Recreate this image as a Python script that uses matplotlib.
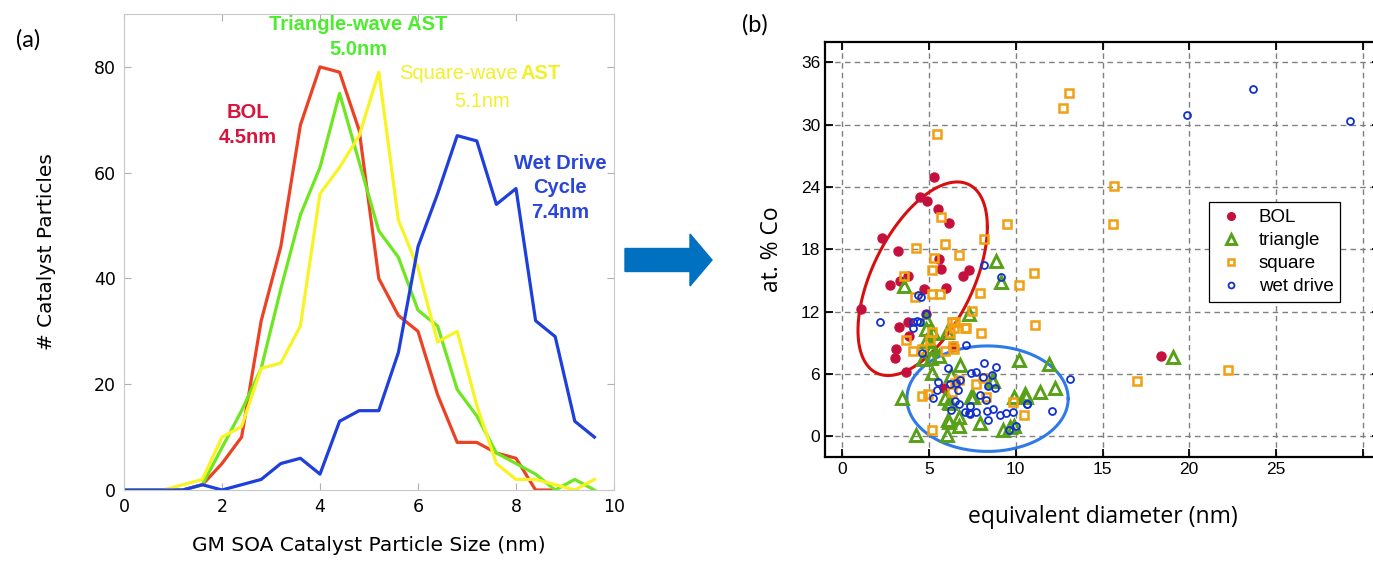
import numpy as np
import matplotlib
matplotlib.use("Agg")
import matplotlib.pyplot as plt
from matplotlib.patches import FancyArrow

nan = np.nan

# ---- panel (a): particle size distributions ----
sizes = [0.0, 0.4, 0.8, 1.2, 1.6, 2.0, 2.4, 2.8, 3.2, 3.6, 4.0, 4.4, 4.8,
         5.2, 5.6, 6.0, 6.4, 6.8, 7.2, 7.6, 8.0, 8.4, 8.8, 9.2, 9.6]
bol_counts = [0, 0, 0, 0, 1, 5, 10, 32, 46, 69, 80, 79, 68,
              40, 33, 30, 18, 9, 9, 7, 6, 0, 0, nan, nan]
triangle_counts = [0, 0, 0, 0, 1, 8, 15, 23, 38, 52, 61, 75, 62,
                   49, 44, 34, 31, 19, 14, 7, 5, 3, 0, 2, 0]
square_counts = [0, 0, 0, 1, 2, 10, 12, 23, 24, 31, 56, 61, 67,
                 79, 51, 42, 28, 30, 16, 5, 2, 2, 1, 0, 2]
wetdrive_counts = [0, 0, 0, 0, 1, 0, 1, 2, 5, 6, 3, 13, 15,
                   15, 26, 46, 56, 67, 66, 54, 57, 32, 29, 13, 10]

# ---- panel (b): Co content vs diameter ----
bol_d = [1.1, 2.3, 2.77, 3.06, 3.08, 3.19, 3.25, 3.31, 3.69, 3.79, 3.8, 3.85,
         4.48, 4.73, 4.85, 4.9, 5.29, 5.52, 5.6, 5.68, 5.87, 5.95, 6.15, 6.35,
         6.94, 7.29, 18.37]
bol_co = [12.3, 19.1, 14.6, 7.5, 8.4, 17.8, 10.5, 15.0, 6.2, 11.0, 15.4, 9.7,
          23.0, 14.2, 11.8, 22.7, 25.0, 21.9, 17.1, 16.1, 4.6, 14.3, 20.5, 8.7,
          15.4, 16.0, 7.7]

tri_d = [3.56, 8.85, 9.13, 7.28, 4.85, 4.8, 5.23, 6.03, 4.85, 5.16, 5.04, 4.67,
         5.12, 5.58, 6.81, 5.19, 6.29, 10.16, 11.94, 3.41, 5.89, 6.13, 6.23,
         7.44, 7.53, 8.6, 8.69, 9.92, 10.54, 10.6, 11.42, 12.25, 6.71, 6.1,
         6.13, 6.71, 7.92, 9.28, 9.67, 9.92, 4.24, 6.03, 19.08]
tri_co = [14.5, 16.9, 14.9, 11.8, 11.3, 10.3, 9.9, 10.0, 9.2, 8.6, 8.5, 7.4,
          7.5, 7.7, 6.9, 6.1, 5.9, 7.3, 7.0, 3.7, 3.7, 3.3, 3.2,
          3.76, 3.8, 5.4, 5.3, 3.8, 4.1, 3.8, 4.3, 4.6, 1.9, 1.6,
          1.4, 1.0, 1.3, 0.64, 0.9, 1.0, 0.16, 0.16, 7.68]

sq_d = [5.47, 12.72, 13.06, 15.65, 15.6, 9.5, 8.16, 5.68, 5.93, 6.71, 4.22,
        5.31, 5.19, 3.56, 5.16, 5.64, 4.2, 7.96, 11.07, 10.21, 7.48, 7.15,
        7.98, 11.13, 6.32, 6.51, 6.42, 6.22, 7.06, 3.64, 5.19, 5.06, 4.09,
        4.61, 5.93, 6.36, 6.42, 8.12, 7.73, 6.51, 6.71, 6.32, 4.61, 4.96,
        8.31, 9.81, 10.45, 5.19, 16.97, 22.24]
sq_co = [29.15, 31.6, 33.1, 24.1, 20.4, 20.4, 19.0, 21.1, 18.5, 17.5, 18.1,
         17.2, 16.0, 15.4, 13.7, 13.7, 13.4, 13.8, 15.7, 14.6, 12.1, 10.4,
         9.9, 10.7, 11.0, 11.0, 10.4, 9.9, 10.4, 9.3, 10.0, 9.3, 8.2,
         8.4, 8.2, 8.7, 8.4, 5.6, 5.0, 5.1, 5.4, 4.3, 3.9, 4.1,
         3.8, 3.3, 2.0, 0.64, 5.33, 6.38]

wet_d = [19.86, 23.7, 29.26, 9.17, 8.17, 4.38, 4.52, 2.15, 4.09, 4.28, 4.48,
         4.05, 4.85, 4.61, 7.14, 13.13, 12.06, 10.64, 6.10, 5.52, 5.48, 6.19,
         6.58, 6.77, 6.67, 7.44, 7.69, 8.15, 8.12, 8.4, 8.79, 8.85, 8.65,
         5.23, 6.48, 6.73, 7.35, 7.06, 7.31, 7.69, 8.35, 8.69, 9.08, 9.46,
         9.85, 10.62, 9.6, 10.0, 8.4, 6.29, 7.92, 8.31, 7.34]
wet_co = [30.9, 33.4, 30.4, 15.3, 16.5, 13.6, 13.4, 11.0, 11.0, 11.1, 11.0,
          10.4, 11.8, 8.0, 8.8, 5.5, 2.4, 3.1, 6.55, 5.27, 4.47, 5.04,
          5.17, 5.43, 4.47, 6.07, 6.23, 7.1, 5.75, 4.8, 4.63, 6.65, 5.9,
          3.67, 3.44, 3.12, 2.93, 2.38, 2.22, 2.29, 2.48, 2.61, 2.06, 2.22,
          2.29, 3.09, 0.62, 0.94, 1.52, 2.54, 4.0, 3.5, 2.1]

fig = plt.figure(figsize=(13.73, 5.62), dpi=100)

# ---------------- (a) ----------------
ax1 = fig.add_axes([0.0903, 0.1281, 0.3569, 0.847])
ax1.plot(sizes, bol_counts, color="#ec4124", lw=2.3)
ax1.plot(sizes, triangle_counts, color="#6ee620", lw=2.3)
ax1.plot(sizes, square_counts, color="#f8f424", lw=2.3)
ax1.plot(sizes, wetdrive_counts, color="#1f3fdc", lw=2.3)
ax1.set_xlim(0, 10)
ax1.set_ylim(0, 90)
ax1.set_xticks([0, 2, 4, 6, 8, 10])
ax1.set_yticks([0, 20, 40, 60, 80])
for s in ax1.spines.values():
    s.set_color("#c8c8c8")
ax1.tick_params(direction="in", length=5, color="#b0b0b0", top=True,
                right=True, labelsize=12.5, pad=6)
ax1.set_xlabel("GM SOA Catalyst Particle Size (nm)", fontsize=14.5,
               labelpad=14)
ax1.set_ylabel("# Catalyst Particles", fontsize=14.5, labelpad=27)

lbl = dict(fontsize=14.5, va="top", family="Liberation Sans", linespacing=1.38)
ax1.text(2.52, 73.2, "BOL\n4.5nm", color="#d8143c", fontweight="bold",
         ha="center", **lbl)
ax1.text(4.78, 89.8, "Triangle-wave AST\n5.0nm", color="#4ced2e",
         fontweight="bold", ha="center", **lbl)
ax1.text(8.03, 80.6, "Square-wave", color="#f2f02a", ha="right", **lbl)
ax1.text(8.1, 80.6, "AST", color="#f2f02a", fontweight="bold", ha="left",
         **lbl)
ax1.text(7.31, 75.2, "5.1nm", color="#f2f02a", ha="center", **lbl)
ax1.text(8.9, 63.6, "Wet Drive\nCycle\n7.4nm", color="#2a46d8",
         fontweight="bold", ha="center", **lbl)

# ---------------- (b) ----------------
ax2 = fig.add_axes([0.6009, 0.1868, 0.4042, 0.739])
ax2.grid(True, color="#808080", ls=(0, (4, 3)), lw=1.0)
ax2.set_axisbelow(True)

t = np.linspace(0, 2 * np.pi, 300)
ax2.plot(4.63 + 3.73 * np.cos(t), 15.17 + 4.98 * np.cos(t) + 7.88 * np.sin(t),
         color="#d80f0f", lw=2.2, zorder=3)
ax2.plot(8.37 + 4.65 * np.cos(t), 3.62 + 5.08 * np.sin(t),
         color="#2f7ae8", lw=2.2, zorder=3)

ax2.plot(bol_d, bol_co, "o", ls="none", ms=6.5, color="#c4103c",
         mec="#c4103c", label="BOL", zorder=4)
ax2.plot(tri_d, tri_co, "^", ls="none", ms=8, mfc="none", mec="#58a018",
         mew=2.1, label="triangle", zorder=4)
ax2.plot(sq_d, sq_co, "s", ls="none", ms=5.8, mfc="none", mec="#f0a010",
         mew=1.8, label="square", zorder=4)
ax2.plot(wet_d, wet_co, "o", ls="none", ms=5, mfc="none", mec="#1030d0",
         mew=1.3, label="wet drive", zorder=4)

ax2.set_xlim(-1, 31)
ax2.set_ylim(-2, 38)
ax2.set_xticks([0, 5, 10, 15, 20, 25, 30])
ax2.set_xticklabels(["0", "5", "10", "15", "20", "25", ""])
ax2.set_yticks([0, 6, 12, 18, 24, 30, 36])
for s in ax2.spines.values():
    s.set_linewidth(1.6)
ax2.tick_params(direction="in", length=6, width=1.3, top=True, right=True,
                labelsize=12.5)
for lab in ax2.get_xticklabels() + ax2.get_yticklabels():
    lab.set_family("Liberation Sans")
ax2.set_xlabel("equivalent diameter (nm)", fontsize=16.5, family="Open Sans",
               labelpad=20)
ax2.set_ylabel("at. % Co", fontsize=16.5, family="Open Sans", labelpad=12)

leg = ax2.legend(loc="upper left", bbox_to_anchor=(0.692, 0.613),
                 borderaxespad=0, fancybox=False, edgecolor="black",
                 framealpha=1, prop={"family": "Liberation Sans", "size": 13.5},
                 handletextpad=0.7, labelspacing=0.32, borderpad=0.35,
                 handlelength=1.6, markerscale=0.85)
leg.get_frame().set_linewidth(0.9)

# panel letters and arrow
fig.text(28 / 1373, 1 - 40 / 562, "(a)", fontsize=17, family="Lato",
         ha="center", va="center")
fig.text(755 / 1373, 1 - 25 / 562, "(b)", fontsize=17, family="Lato",
         ha="center", va="center")
fig.patches.append(FancyArrow(6.25, 5.62 - 2.60, 0.87, 0, width=0.23,
                              head_width=0.52, head_length=0.22,
                              length_includes_head=True, color="#0070c0",
                              transform=fig.dpi_scale_trans, figure=fig))

fig.savefig("out.png", dpi=100)
plt.close(fig)
